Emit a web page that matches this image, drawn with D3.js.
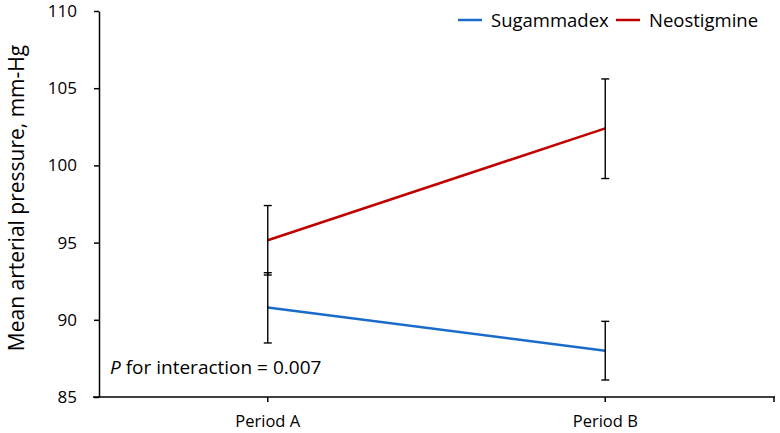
<!DOCTYPE html>
<html>
<head>
<meta charset="utf-8">
<script src="https://cdn.jsdelivr.net/npm/d3@7"></script>
<style>
  body { margin: 0; background: white; }
  text { font-family: "Open Sans", "Noto Sans", sans-serif; fill: #000; }
</style>
</head>
<body>
<div id="chart"></div>
<script>
var periods = ["Period A", "Period B"];
var yTicks = [85, 90, 95, 100, 105, 110];
var seriesNames = ["Sugammadex", "Neostigmine"];
var seriesColors = ["#1a6ccb", "#c00000"];

// mean, lower, upper for each period
var sugMean = [90.8, 88.0];
var sugLow = [88.5, 86.1];
var sugHigh = [93.05, 89.9];
var neoMean = [95.15, 102.4];
var neoLow = [92.9, 99.15];
var neoHigh = [97.4, 105.6];

var annotation = "for interaction = 0.007";

var W = 780, H = 433;
var margin = { left: 99, right: 5, top: 11, bottom: 36 };
var width = W - margin.left - margin.right;
var height = H - margin.top - margin.bottom;

var svg = d3.select("#chart").append("svg")
  .attr("width", W)
  .attr("height", H);

var g = svg.append("g")
  .attr("transform", "translate(" + margin.left + "," + margin.top + ")");

var x = d3.scaleBand().domain(periods).range([0, width - 1]);
var y = d3.scaleLinear().domain([85, 110]).range([height, 0]);

var cx = function (p) { return x(p) + x.bandwidth() / 2; };

// y axis
var yAxis = g.append("g")
  .call(d3.axisLeft(y).tickValues(yTicks).tickSize(5).tickSizeOuter(0).tickPadding(17));
yAxis.select(".domain").attr("stroke", "#000").attr("stroke-width", 1.5);
yAxis.selectAll(".tick line").attr("stroke-width", 1.5);
yAxis.selectAll("text").style("font-size", "17px").attr("font-family", "Open Sans");

// x axis
var xAxis = g.append("g")
  .attr("transform", "translate(0," + height + ")")
  .call(d3.axisBottom(x).tickSize(5).tickSizeOuter(0).tickPadding(13));
xAxis.select(".domain").attr("stroke-width", 1.5).attr("d", "M-6,0H" + width);
xAxis.selectAll(".tick line").attr("stroke-width", 1.5);
xAxis.selectAll("text").style("font-size", "16.5px").attr("font-family", "Open Sans");
xAxis.append("line")
  .attr("x1", width - 1).attr("x2", width - 1)
  .attr("y1", 0).attr("y2", 5)
  .attr("stroke", "#000").attr("stroke-width", 1.5);

// y label
svg.append("text")
  .attr("transform", "translate(24," + (margin.top + height / 2 - 6) + ") rotate(-90)")
  .attr("text-anchor", "middle")
  .style("font-size", "21px")
  .text("Mean arterial pressure, mm-Hg");

var series = [
  { name: seriesNames[0], color: seriesColors[0], mean: sugMean, low: sugLow, high: sugHigh },
  { name: seriesNames[1], color: seriesColors[1], mean: neoMean, low: neoLow, high: neoHigh }
];

var line = d3.line()
  .x(function (d, i) { return cx(periods[i]); })
  .y(function (d) { return y(d); });

series.forEach(function (s) {
  g.append("path")
    .datum(s.mean)
    .attr("fill", "none")
    .attr("stroke", s.color)
    .attr("stroke-width", 2.5)
    .attr("d", line);
});

// error bars
series.forEach(function (s) {
  var eb = g.append("g").attr("stroke", "#000").attr("stroke-width", 1.4);
  periods.forEach(function (p, i) {
    eb.append("line")
      .attr("x1", cx(p)).attr("x2", cx(p))
      .attr("y1", y(s.low[i])).attr("y2", y(s.high[i]));
    [s.low[i], s.high[i]].forEach(function (v) {
      eb.append("line")
        .attr("x1", cx(p) - 4).attr("x2", cx(p) + 4)
        .attr("y1", y(v)).attr("y2", y(v));
    });
  });
});

// legend
var legend = svg.append("g");
var legendX = [458, 616];
series.forEach(function (s, i) {
  legend.append("line")
    .attr("x1", legendX[i]).attr("x2", legendX[i] + 24)
    .attr("y1", 20).attr("y2", 20)
    .attr("stroke", s.color).attr("stroke-width", 2.5);
  legend.append("text")
    .attr("x", legendX[i] + 33)
    .attr("y", 26.5)
    .style("font-size", "18.5px")
    .text(s.name);
});

// annotation
var ann = svg.append("text")
  .attr("x", 110)
  .attr("y", 374)
  .style("font-size", "19px");
ann.append("tspan").style("font-style", "italic").text("P");
ann.append("tspan").text(" " + annotation);
</script>
</body>
</html>
